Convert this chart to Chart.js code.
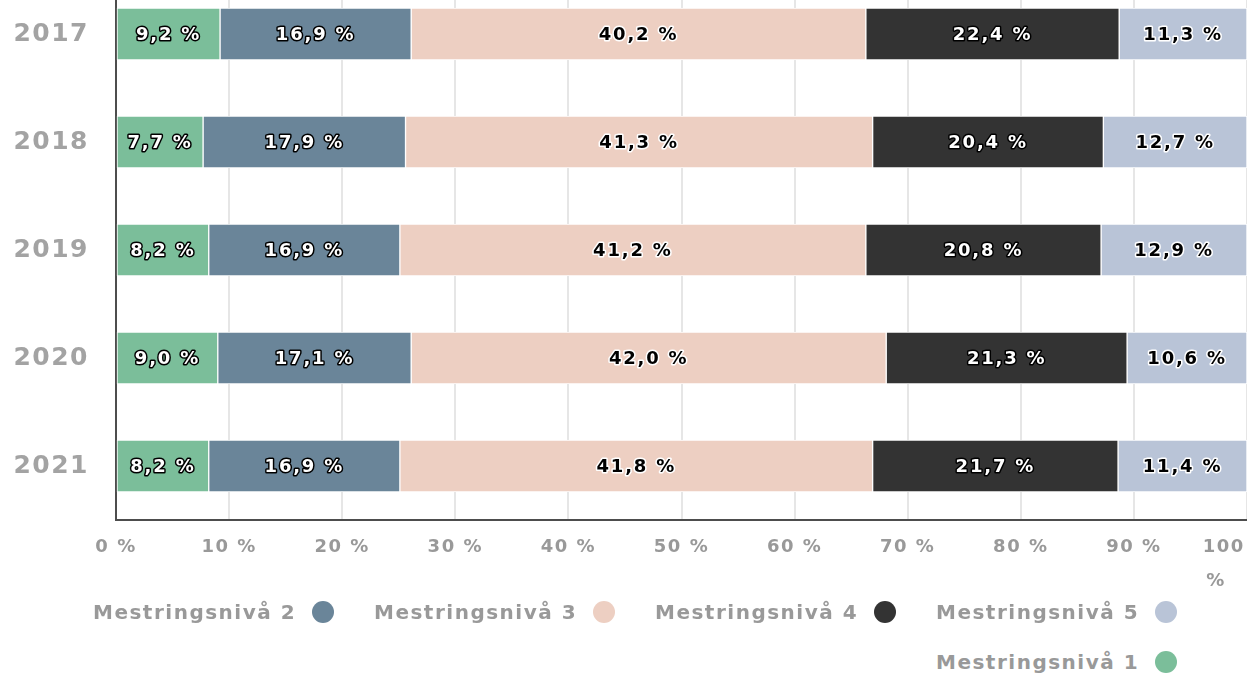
<!DOCTYPE html>
<html>
<head>
<meta charset="utf-8">
<script src="https://cdn.jsdelivr.net/npm/chart.js@4.4.1/dist/chart.umd.min.js"></script>
<style>
  html, body { margin: 0; padding: 0; background: #fff; overflow: hidden; }
  body { width: 1247px; height: 676px; position: relative; }
  #box { position: absolute; left: 0; top: -20px; width: 1247px; height: 620px; }
  #legend { position: absolute; left: 93px; top: 597px; font-family: 'DejaVu Sans'; font-weight: bold;
            font-size: 20px; letter-spacing: 1.5px; color: #999; }
  .item { position: absolute; white-space: nowrap; height: 30px; line-height: 30px; }
  .dot { display: inline-block; width: 22px; height: 22px; border-radius: 50%; vertical-align: -4px; margin-left: 16px; }
</style>
</head>
<body>
<div id="box"><canvas id="chart"></canvas></div>
<div id="legend"></div>
<script>
// data
const years = ['2017', '2018', '2019', '2020', '2021'];
const seriesNames = ['Mestringsnivå 1', 'Mestringsnivå 2', 'Mestringsnivå 3', 'Mestringsnivå 4', 'Mestringsnivå 5'];
const niva1 = [9.2, 7.7, 8.2, 9.0, 8.2];
const niva2 = [16.9, 17.9, 16.9, 17.1, 16.9];
const niva3 = [40.2, 41.3, 41.2, 42.0, 41.8];
const niva4 = [22.4, 20.4, 20.8, 21.3, 21.7];
const niva5 = [11.3, 12.7, 12.9, 10.6, 11.4];
const xTicks = [0, 10, 20, 30, 40, 50, 60, 70, 80, 90, 100];
const legendOrder = [1, 2, 3, 4, 0];

const colors = ['#7bbe9a', '#6a8599', '#edcfc2', '#333333', '#b9c4d7'];
// farge på etiketten inne i søylen: [fyll, kontur]
const labelStyle = [['#fff', '#000'], ['#fff', '#000'], ['#000', '#fff'], ['#fff', '#000'], ['#000', '#fff']];

const allValues = [niva1, niva2, niva3, niva4, niva5];

Chart.defaults.font.family = 'DejaVu Sans';

const fmt = v => v.toFixed(1).replace('.', ',') + ' %';

// tegner verdiene midt i hver søyle
const barLabels = {
  id: 'barLabels',
  beforeDraw(chart) {
    chart.ctx.letterSpacing = '1.5px';
  },
  afterDatasetsDraw(chart) {
    const ctx = chart.ctx;
    ctx.save();
    ctx.font = 'bold 18px "DejaVu Sans"';
    ctx.letterSpacing = '1.8px';
    ctx.textAlign = 'center';
    ctx.textBaseline = 'middle';
    ctx.lineJoin = 'round';
    ctx.lineWidth = 3;
    chart.data.datasets.forEach((ds, i) => {
      const meta = chart.getDatasetMeta(i);
      meta.data.forEach((bar, j) => {
        const txt = fmt(ds.data[j]);
        const x = (bar.x + bar.base) / 2;
        ctx.strokeStyle = labelStyle[i][1];
        ctx.fillStyle = labelStyle[i][0];
        ctx.strokeText(txt, x, bar.y + 1);
        ctx.fillText(txt, x, bar.y + 1);
      });
    });
    ctx.restore();
  }
};

const chart = new Chart(document.getElementById('chart'), {
  type: 'bar',
  data: {
    labels: years,
    datasets: allValues.map((vals, i) => ({
      label: seriesNames[i],
      data: vals,
      backgroundColor: colors[i],
      borderColor: '#fff',
      borderWidth: 1,
      borderSkipped: false,
      barThickness: 52,
    })),
  },
  options: {
    indexAxis: 'y',
    responsive: true,
    maintainAspectRatio: false,
    animation: false,
    layout: { padding: 0, autoPadding: false },
    plugins: {
      legend: { display: false },
      tooltip: { enabled: false },
    },
    scales: {
      x: {
        stacked: true,
        min: 0,
        max: 100,
        afterBuildTicks: s => { s.ticks = xTicks.map(v => ({ value: v })); },
        afterFit: s => { s.height = 80; s.paddingLeft = 0; s.paddingRight = 0; },
        grid: { color: '#e6e6e6', lineWidth: 2, drawTicks: false },
        border: { color: '#4d4d4d', width: 2 },
        ticks: {
          autoSkip: false,
          maxRotation: 0,
          padding: 11,
          color: '#999',
          font: { size: 18, weight: 'bold', lineHeight: 1.85 },
          callback: v => v === 100
            ? ['100' + '\u00a0'.repeat(6), '%' + '\u00a0'.repeat(8)]
            : v + ' %',
        },
      },
      y: {
        stacked: true,
        afterFit: s => { s.width = 116; s.paddingTop = 0; s.paddingBottom = 0; },
        grid: { display: false, drawTicks: false },
        border: { color: '#4d4d4d', width: 2 },
        ticks: {
          padding: 27,
          color: '#a3a3a3',
          font: { size: 25, weight: 'bold' },
        },
      },
    },
  },
  plugins: [barLabels],
});

// forklaring under figuren, symbolet står etter teksten
const legend = document.getElementById('legend');
const cols = 4;
const lastRowCount = legendOrder.length % cols;
legendOrder.forEach((idx, k) => {
  const row = Math.floor(k / cols);
  let col = k % cols;
  if (lastRowCount && k >= legendOrder.length - lastRowCount) col += cols - lastRowCount;
  const el = document.createElement('div');
  el.className = 'item';
  el.style.left = (col * 281) + 'px';
  el.style.top = (row * 50) + 'px';
  el.innerHTML = chart.data.datasets[idx].label +
    '<span class="dot" style="background:' + chart.data.datasets[idx].backgroundColor + '"></span>';
  legend.appendChild(el);
});
</script>
</body>
</html>
